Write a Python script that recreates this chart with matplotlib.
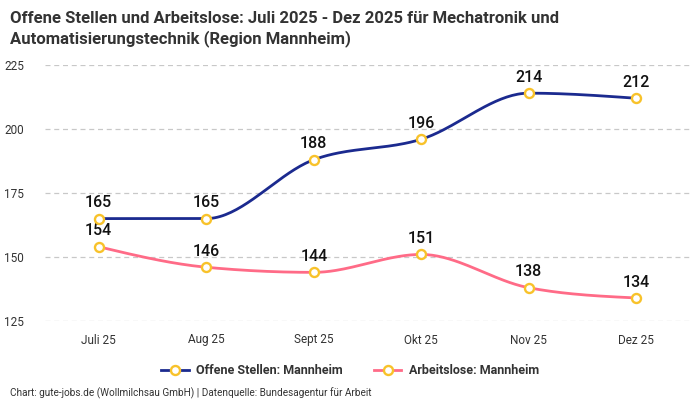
import numpy as np
import matplotlib
matplotlib.use("Agg")
import matplotlib.pyplot as plt
from matplotlib.lines import Line2D

months = ["Juli 25", "Aug 25", "Sept 25", "Okt 25", "Nov 25", "Dez 25"]
offene_stellen = [165, 165, 188, 196, 214, 212]
arbeitslose = [154, 146, 144, 151, 138, 134]
y_ticks = [125, 150, 175, 200, 225]

BLUE = "#1b2a8f"
PINK = "#ff6b87"
MARKER_EDGE = "#f8c22a"


def monotone_curve(x, y, n=40):
    # monotone cubic (Fritsch-Carlson), like d3 curveMonotoneX
    x = np.asarray(x, float)
    y = np.asarray(y, float)
    h = np.diff(x)
    s = np.diff(y) / h
    m = np.zeros_like(y)
    for i in range(1, len(y) - 1):
        if s[i - 1] * s[i] <= 0:
            m[i] = 0
        else:
            p = (s[i - 1] * h[i] + s[i] * h[i - 1]) / (h[i - 1] + h[i])
            m[i] = (np.sign(s[i - 1]) + np.sign(s[i])) * min(abs(s[i - 1]), abs(s[i]), 0.5 * abs(p))
    # d3 end handling
    m[0] = (3 * s[0] - m[1]) / 2
    m[-1] = (3 * s[-1] - m[-2]) / 2
    xs, ys = [], []
    for i in range(len(h)):
        t = np.linspace(0, 1, n)
        h00 = 2 * t**3 - 3 * t**2 + 1
        h10 = t**3 - 2 * t**2 + t
        h01 = -2 * t**3 + 3 * t**2
        h11 = t**3 - t**2
        xs.append(x[i] + t * h[i])
        ys.append(h00 * y[i] + h10 * h[i] * m[i] + h01 * y[i + 1] + h11 * h[i] * m[i + 1])
    return np.concatenate(xs), np.concatenate(ys)


plt.rcParams["font.family"] = ["Roboto", "DejaVu Sans"]

fig = plt.figure(figsize=(7, 4), dpi=100)
ax = fig.add_axes([45 / 700, 79 / 400, 645 / 700, 256 / 400])

x = np.arange(len(months))
for vals, color in [(offene_stellen, BLUE), (arbeitslose, PINK)]:
    cx, cy = monotone_curve(x, vals)
    ax.plot(cx, cy, color=color, lw=2, zorder=3, clip_on=False)
    ax.plot(x, vals, "o", ms=6.5, mfc="white", mec=MARKER_EDGE, mew=1.7, zorder=4, clip_on=False)
    for xi, v in zip(x, vals):
        ax.annotate(str(v), (xi, v), xytext=(0, 6), textcoords="offset points",
                    ha="center", va="bottom", fontsize=11.5, fontweight="medium", color="#111111")

ax.set_xlim(-0.5, len(months) - 0.5)
ax.set_ylim(125, 225)
ax.set_yticks(y_ticks)
ax.set_xticks(x)
ax.set_xticklabels(months)
ax.grid(axis="y", color="#c8c8c8", linestyle=(0, (4, 3)), lw=0.9)
for sp in ax.spines.values():
    sp.set_visible(False)
ax.tick_params(length=0, labelsize=8.5, colors="#333333")
ax.tick_params(axis="y", pad=15)
ax.tick_params(axis="x", pad=9)

fig.text(10 / 700, 1 - 11 / 400, "Offene Stellen und Arbeitslose: Juli 2025 - Dez 2025 für Mechatronik und\n"
         "Automatisierungstechnik (Region Mannheim)",
         ha="left", va="top", fontsize=12, fontweight="bold", color="#333333", linespacing=1.3)

handles = [
    Line2D([], [], color=BLUE, lw=2, marker="o", ms=6.5, mfc="white", mec=MARKER_EDGE, mew=1.7),
    Line2D([], [], color=PINK, lw=2, marker="o", ms=6.5, mfc="white", mec=MARKER_EDGE, mew=1.7),
]
fig.legend(handles, ["Offene Stellen: Mannheim", "Arbeitslose: Mannheim"],
           loc="center", bbox_to_anchor=(0.5, 1 - 371 / 400), ncol=2, frameon=False,
           prop={"size": 9, "weight": "bold"}, labelcolor="#333333",
           handlelength=2.2, columnspacing=2.5, handletextpad=0.6)

fig.text(10 / 700, 1 - 393 / 400,
         "Chart: gute-jobs.de (Wollmilchsau GmbH) | Datenquelle: Bundesagentur für Arbeit",
         ha="left", va="center", fontsize=7.2, color="#333333")

fig.savefig("out.png", dpi=100)
